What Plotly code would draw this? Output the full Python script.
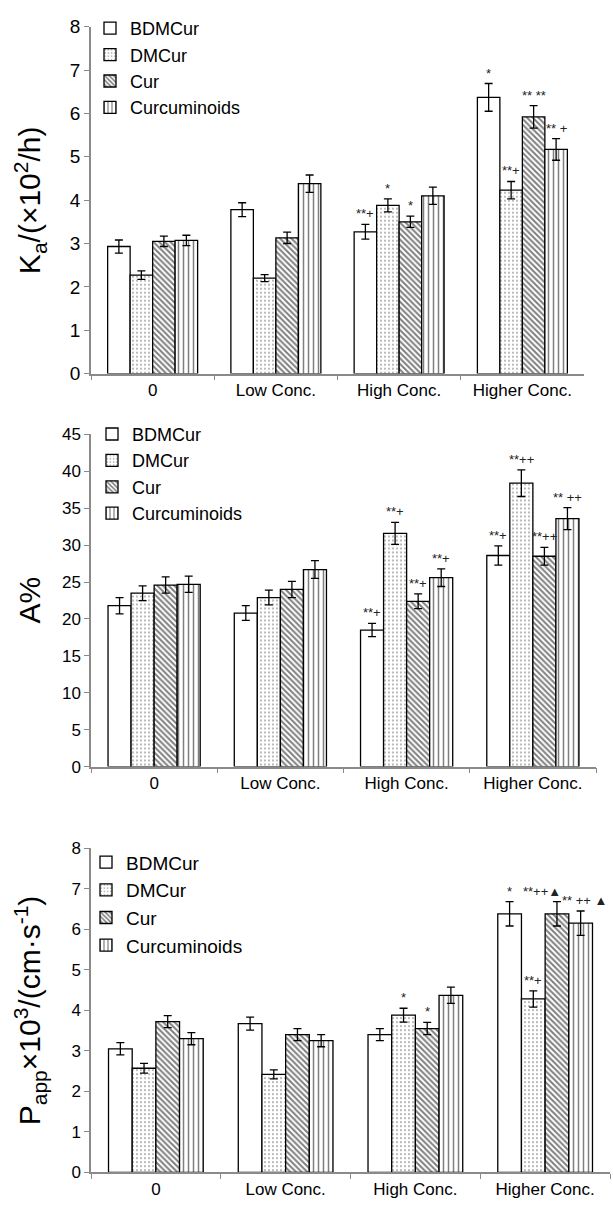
import plotly.graph_objects as go

W, H = 613, 1207

categories = ["0", "Low Conc.", "High Conc.", "Higher Conc."]
series = ["BDMCur", "DMCur", "Cur", "Curcuminoids"]

# Absorption rate constant Ka (x10^2 / h)
ka_bdmcur = [2.93, 3.78, 3.27, 6.37]
ka_dmcur = [2.27, 2.20, 3.88, 4.23]
ka_cur = [3.05, 3.13, 3.50, 5.92]
ka_curcuminoids = [3.07, 4.38, 4.10, 5.17]
ka_err_bdmcur = [0.15, 0.16, 0.17, 0.32]
ka_err_dmcur = [0.10, 0.08, 0.15, 0.20]
ka_err_cur = [0.12, 0.13, 0.13, 0.26]
ka_err_curcuminoids = [0.12, 0.20, 0.20, 0.25]
ka_marks = {(2, 0): "**+", (2, 1): "*", (2, 2): "*",
            (3, 0): "*", (3, 1): "**+", (3, 2): "** **", (3, 3): "** +"}

# Absorption percentage A%
a_bdmcur = [21.8, 20.8, 18.5, 28.6]
a_dmcur = [23.5, 22.9, 31.6, 38.4]
a_cur = [24.6, 24.0, 22.4, 28.5]
a_curcuminoids = [24.7, 26.7, 25.6, 33.6]
a_err_bdmcur = [1.1, 1.0, 0.9, 1.3]
a_err_dmcur = [1.0, 1.0, 1.5, 1.8]
a_err_cur = [1.1, 1.1, 1.0, 1.2]
a_err_curcuminoids = [1.1, 1.2, 1.2, 1.5]
a_marks = {(2, 0): "**+", (2, 1): "**+", (2, 2): "**+", (2, 3): "**+",
           (3, 0): "**+", (3, 1): "**++", (3, 2): "**++", (3, 3): "** ++"}

# Apparent permeability Papp (x10^3 cm/s)
p_bdmcur = [3.05, 3.67, 3.40, 6.38]
p_dmcur = [2.57, 2.42, 3.88, 4.28]
p_cur = [3.72, 3.40, 3.55, 6.38]
p_curcuminoids = [3.30, 3.25, 4.37, 6.15]
p_err_bdmcur = [0.15, 0.16, 0.15, 0.30]
p_err_dmcur = [0.12, 0.11, 0.17, 0.20]
p_err_cur = [0.15, 0.15, 0.15, 0.30]
p_err_curcuminoids = [0.15, 0.15, 0.20, 0.30]
p_marks = {(2, 1): "*", (2, 2): "*",
           (3, 0): "*", (3, 1): "**+", (3, 2): "**++▲", (3, 3): "** ++ ▲"}

FONT = "Arial, Liberation Sans, sans-serif"
AXIS_GREY = "#8a8a8a"
BARGAP = 0.27

patterns = [
    dict(shape="", fgcolor="black", bgcolor="white"),
    dict(shape=".", size=4, solidity=0.18, fgcolor="#444", bgcolor="white"),
    dict(shape="\\", size=4, solidity=0.5, fgcolor="black", bgcolor="white"),
    dict(shape="|", size=5, solidity=0.3, fgcolor="black", bgcolor="white"),
]

# crowded marks in the last group of the permeability panel:
# right-aligned, with the anchor offset from the bar centre in bar widths
mark_anchor = {2: {(3, 2): 0.25, (3, 3): 1.2}}


def py(px):
    return 1 - px / H


def pxx(px):
    return px / W


panels = [
    dict(values=[ka_bdmcur, ka_dmcur, ka_cur, ka_curcuminoids],
         errors=[ka_err_bdmcur, ka_err_dmcur, ka_err_cur, ka_err_curcuminoids],
         marks=ka_marks, yrange=[0, 8], dtick=1,
         xdom=(91, 584), ydom=(370, 17), tickfont=19,
         title="K<sub>a</sub>/(×10<sup>2</sup>/h)", title_size=30, title_x=30,
         legend=dict(x=90, y=0, size=18)),
    dict(values=[a_bdmcur, a_dmcur, a_cur, a_curcuminoids],
         errors=[a_err_bdmcur, a_err_dmcur, a_err_cur, a_err_curcuminoids],
         marks=a_marks, yrange=[0, 45], dtick=5,
         xdom=(91, 596), ydom=(770, 432), tickfont=17,
         title="A%", title_size=30, title_x=30,
         legend=dict(x=92, y=413, size=18)),
    dict(values=[p_bdmcur, p_dmcur, p_cur, p_curcuminoids],
         errors=[p_err_bdmcur, p_err_dmcur, p_err_cur, p_err_curcuminoids],
         marks=p_marks, yrange=[0, 8], dtick=1,
         xdom=(91, 610), ydom=(1183, 853), tickfont=17,
         title="P<sub>app</sub>×10<sup>3</sup>/(cm·s<sup>-1</sup>)", title_size=30, title_x=30,
         legend=dict(x=86, y=848, size=19)),
]

fig = go.Figure()
annotations = []
layout = {}

for k, p in enumerate(panels):
    n = k + 1
    xa = "x" if n == 1 else f"x{n}"
    ya = "y" if n == 1 else f"y{n}"
    leg = "legend" if n == 1 else f"legend{n}"
    for j, name in enumerate(series):
        fig.add_trace(go.Bar(
            x=categories, y=p["values"][j], name=name,
            xaxis=xa, yaxis=ya, legend=leg,
            marker=dict(color="white", line=dict(color="black", width=1.3),
                        pattern=patterns[j]),
            error_y=dict(type="data", array=p["errors"][j], color="black",
                         thickness=1.3, width=4),
        ))
    x0, x1 = p["xdom"]
    yb, yt = p["ydom"]
    layout[f"xaxis{'' if n == 1 else n}"] = dict(
        domain=[pxx(x0), pxx(x1)], anchor=ya, type="category",
        range=[-0.5, len(categories) - 0.5], autorange=False,
        showline=True, linecolor=AXIS_GREY, linewidth=1.5,
        ticks="outside", tickson="boundaries", ticklen=5, tickcolor=AXIS_GREY,
        tickfont=dict(family=FONT, size=17, color="black"),
        showgrid=False, zeroline=False,
    )
    layout[f"yaxis{'' if n == 1 else n}"] = dict(
        domain=[py(yb), py(yt)], anchor=xa, range=p["yrange"], autorange=False,
        dtick=p["dtick"],
        showline=True, linecolor=AXIS_GREY, linewidth=1.5,
        ticks="outside", ticklen=5, tickcolor=AXIS_GREY,
        tickfont=dict(family=FONT, size=p["tickfont"], color="black"),
        showgrid=False, zeroline=False,
    )
    lg = p["legend"]
    layout[leg] = dict(
        x=pxx(lg["x"]), y=py(lg["y"]), xanchor="left", yanchor="top",
        font=dict(family=FONT, size=lg["size"], color="black"),
        bgcolor="rgba(0,0,0,0)", itemwidth=30, tracegroupgap=0,
    )
    annotations.append(dict(
        text=p["title"], textangle=-90, xref="paper", yref="paper",
        x=pxx(p["title_x"]), y=py((yb + yt) / 2), xanchor="center", yanchor="middle",
        showarrow=False, font=dict(family=FONT, size=p["title_size"], color="black"),
    ))
    # significance marks above the error bars
    width = (1 - BARGAP) / len(series)
    anchors = mark_anchor.get(k, {})
    for (i, j), txt in p["marks"].items():
        xc = i - (1 - BARGAP) / 2 + width * (j + 0.5)
        if (i, j) in anchors:
            side, xpos = "right", xc + width * anchors[(i, j)]
        else:
            side, xpos = "center", xc
        ytop = p["values"][j][i] + p["errors"][j][i]
        annotations.append(dict(
            text=txt, x=xpos, y=ytop, xref=xa, yref=ya,
            xanchor=side, yanchor="bottom", yshift=1, showarrow=False,
            font=dict(family=FONT, size=13, color="#222"),
        ))

fig.update_layout(
    width=W, height=H, margin=dict(l=0, r=0, t=0, b=0),
    paper_bgcolor="white", plot_bgcolor="white",
    barmode="group", bargap=BARGAP, bargroupgap=0,
    showlegend=True, annotations=annotations, **layout,
)

fig.write_html("out.html")
